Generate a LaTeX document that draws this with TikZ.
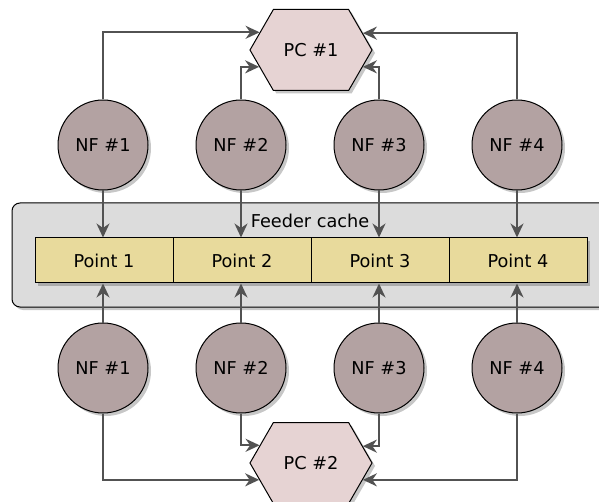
\documentclass[tikz,border=0pt]{standalone}
\usepackage{fontspec}
\setmainfont{DejaVu Sans}
\usetikzlibrary{shapes.symbols,shadows,arrows.meta,calc}

\definecolor{linegray}{HTML}{525252}
\definecolor{nffill}{HTML}{B3A2A2}
\definecolor{pcfill}{HTML}{E6D3D3}
\definecolor{cellfill}{HTML}{E8DA9C}
\definecolor{cachefill}{HTML}{DCDCDC}

\tikzset{
  x=1pt, y=-1pt,
  softshadow/.style={drop shadow={shadow xshift=3pt, shadow yshift=-3pt, fill=black, opacity=0.22}},
  nfnode/.style={circle, draw=black, line width=1pt, fill=nffill, minimum size=90pt,
    inner sep=0pt, font=\fontsize{17.7}{20}\selectfont, softshadow},
  pcnode/.style={signal, signal to=west and east, signal pointer angle=120,
    draw=black, line width=1pt, fill=pcfill, minimum width=122pt, minimum height=81pt,
    inner sep=0pt, font=\fontsize{17.7}{20}\selectfont, softshadow},
  cellnode/.style={rectangle, draw=black, line width=1pt, fill=cellfill,
    minimum width=138pt, minimum height=45pt, inner sep=0pt,
    font=\fontsize{17.7}{20}\selectfont, softshadow},
  cachebox/.style={rectangle, rounded corners=8pt, draw=black, line width=1pt,
    fill=cachefill, inner sep=0pt, softshadow},
  conn/.style={draw=linegray, line width=2pt,
    -{Stealth[length=14pt, width=13pt, inset=4.5pt]}},
}

\begin{document}
\begin{tikzpicture}
  \useasboundingbox (0,0) rectangle (599,502);
  \clip (0,0) rectangle (599,502);

  % feeder cache container and its caption
  \node[cachebox, minimum width=600pt, minimum height=104pt] (cache) at (312,255) {};
  \node[font=\fontsize{17.7}{20}\selectfont] (cachelabel) at (310,221) {Feeder cache};

  % cache points
  \node[cellnode] (p1) at (104,260.5) {Point 1};
  \node[cellnode] (p2) at (242,260.5) {Point 2};
  \node[cellnode] (p3) at (380,260.5) {Point 3};
  \node[cellnode] (p4) at (518,260.5) {Point 4};

  % process controllers
  \node[pcnode] (pc1) at (311,50) {PC \#1};
  \node[pcnode] (pc2) at (311,463) {PC \#2};

  % network functions, upper row
  \node[nfnode] (nf1t) at (103,145) {NF \#1};
  \node[nfnode] (nf2t) at (241,145) {NF \#2};
  \node[nfnode] (nf3t) at (379,145) {NF \#3};
  \node[nfnode] (nf4t) at (517,145) {NF \#4};

  % network functions, lower row
  \node[nfnode] (nf1b) at (103,368) {NF \#1};
  \node[nfnode] (nf2b) at (241,368) {NF \#2};
  \node[nfnode] (nf3b) at (379,368) {NF \#3};
  \node[nfnode] (nf4b) at (517,368) {NF \#4};

  % upper row: to PC #1 and down into the cache
  \draw[conn] (nf1t.north) |- (pc1.161.5);
  \draw[conn] (nf2t.north) |- (pc1.198.5);
  \draw[conn] (nf3t.north) |- (pc1.-18.5);
  \draw[conn] (nf4t.north) |- (pc1.18.5);
  \foreach \i in {1,...,4}
    \draw[conn] (nf\i t.south) -- (nf\i t.south |- p\i.north);

  % lower row: to PC #2 and up into the cache
  \draw[conn] (nf1b.south) |- (pc2.198.5);
  \draw[conn] (nf2b.south) |- (pc2.161.5);
  \draw[conn] (nf3b.south) |- (pc2.18.5);
  \draw[conn] (nf4b.south) |- (pc2.-18.5);
  \foreach \i in {1,...,4}
    \draw[conn] (nf\i b.north) -- (nf\i b.north |- p\i.south);
\end{tikzpicture}
\end{document}
